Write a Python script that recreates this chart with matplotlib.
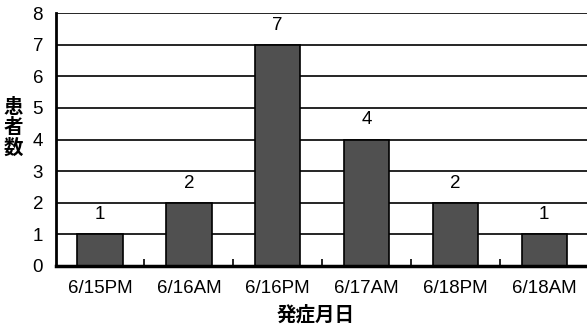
import numpy as np
import matplotlib
matplotlib.use("Agg")
import matplotlib.pyplot as plt

plt.rcParams['font.family'] = ['Liberation Sans', 'Noto Sans CJK JP', 'DejaVu Sans']

# 発症時期ごとの患者数
fechas = ['6/15PM', '6/16AM', '6/16PM', '6/17AM', '6/18PM', '6/18AM']
pacientes = [1, 2, 7, 4, 2, 1]
yticks = [0, 1, 2, 3, 4, 5, 6, 7, 8]

fig = plt.figure(figsize=(5.87, 3.33), dpi=100)
ax = fig.add_axes([55.6 / 587, 67 / 333, 533 / 587, 253 / 333])

x = np.arange(len(fechas))

# Cuadrícula horizontal negra detrás de las barras
for v in yticks[1:]:
    ax.axhline(v, color='black', linewidth=1.2, zorder=1)

barras = ax.bar(x, pacientes, width=0.51, color='#505050',
                edgecolor='black', linewidth=1.2, zorder=2)

# Valores encima de cada barra
for xi, v in zip(x, pacientes):
    ax.annotate(str(v), (xi, v), xytext=(0, 8), textcoords='offset points',
                ha='center', va='bottom', fontsize=13.5)

ax.set_xlim(-0.5, len(fechas) - 0.5)
ax.set_ylim(0, 8)
ax.set_yticks(yticks)
ax.tick_params(axis='y', length=0, pad=9, labelsize=13.5)

ax.set_xticks(x)
ax.set_xticklabels(fechas, fontsize=13.5)
ax.tick_params(axis='x', length=0, pad=10)
# Marcas pequeñas entre categorías
ax.set_xticks(x[:-1] + 0.5, minor=True)
ax.tick_params(axis='x', which='minor', direction='in', length=5, width=1.2)

for lado in ['top', 'right']:
    ax.spines[lado].set_visible(False)
ax.spines['left'].set_linewidth(2)
ax.spines['bottom'].set_linewidth(2.5)
ax.spines['bottom'].set_zorder(3)

# Etiquetas de los ejes
fig.text(13 / 587, 1 - 128 / 333, '患\n者\n数', ha='center', va='center',
         fontsize=14, fontweight='bold', linespacing=1.1,
         family=['Noto Sans CJK JP'])
fig.text(316 / 587, 1 - 315 / 333, '発症月日', ha='center', va='center',
         fontsize=14, fontweight='bold', family=['Noto Sans CJK JP'])

plt.savefig('out.png', dpi=100)
